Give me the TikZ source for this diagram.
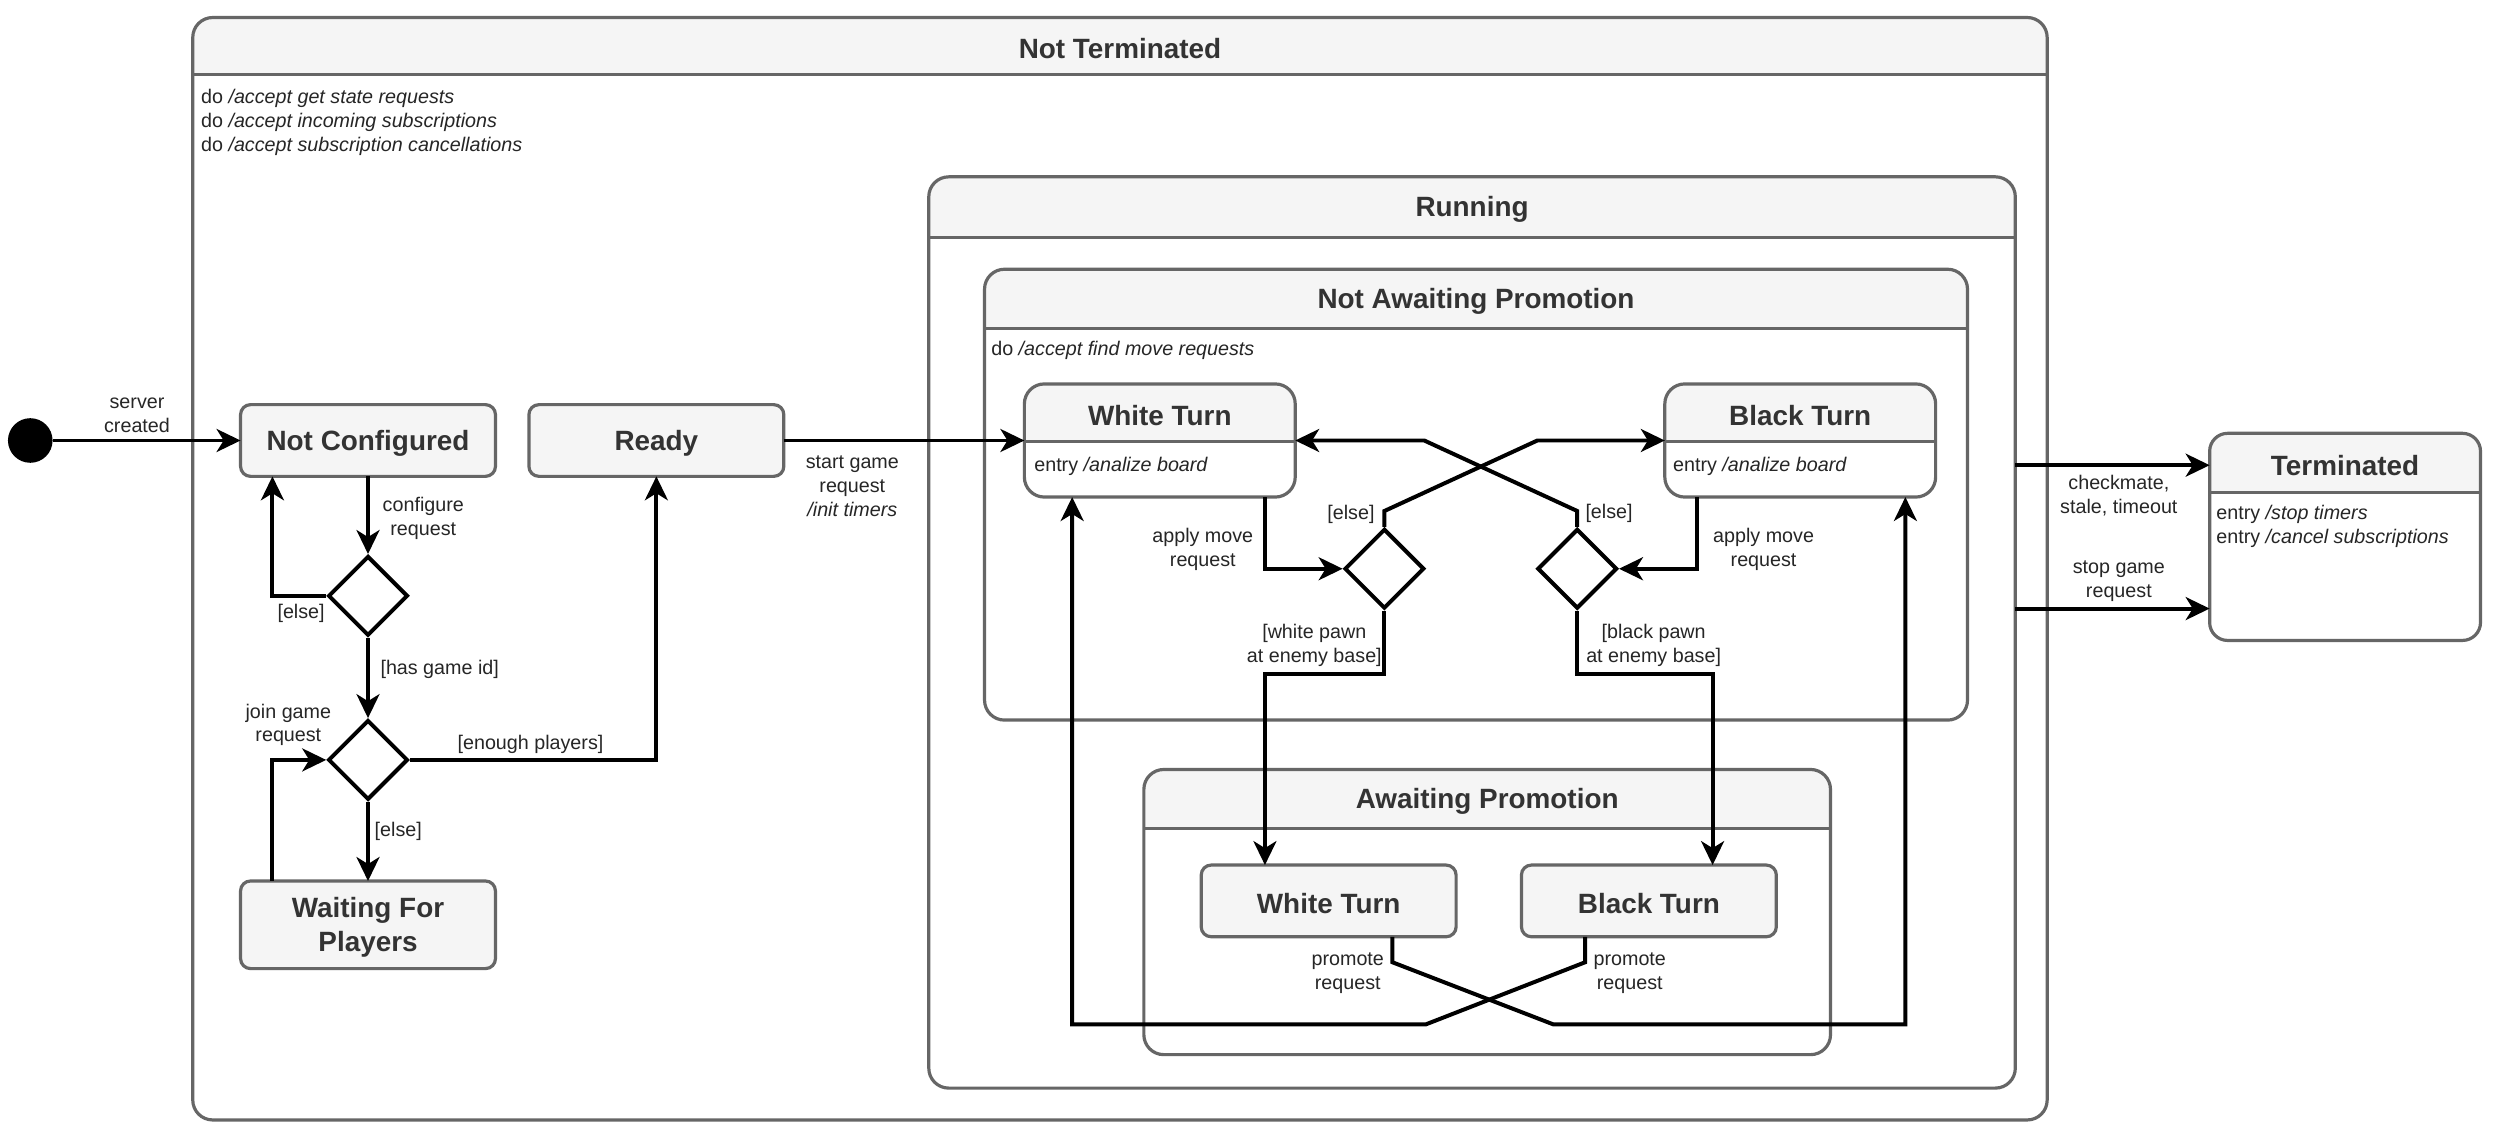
\documentclass[tikz,border=0pt]{standalone}
\usepackage{fontspec}
\setmainfont{Liberation Sans}
\usetikzlibrary{shapes.geometric,arrows.meta,calc}
\definecolor{bd}{HTML}{666666}
\definecolor{hd}{HTML}{F5F5F5}
\definecolor{tx}{HTML}{333333}
\tikzset{
  bdline/.style={draw=bd, line width=1.6pt},
  ttl/.style={font=\fontsize{14}{16.8}\selectfont\bfseries, text=tx, align=center, inner sep=0pt, yshift=-1.2pt},
  lbl/.style={font=\fontsize{9.9}{12}\selectfont, text=black!85, align=center, inner sep=0pt, yshift=-0.8pt},
  act/.style={font=\fontsize{9.9}{12}\selectfont, text=black!85, align=left, anchor=west, inner sep=0pt, yshift=-0.8pt},
  arr/.style={line width=2pt, -{Stealth[length=12pt,width=11.5pt,inset=3.5pt]}},
  dia/.style={diamond, draw=black, line width=2pt, fill=white, minimum width=40pt, minimum height=40pt, inner sep=0pt, aspect=1},
  initst/.style={circle, fill=black, minimum size=22.4pt, inner sep=0pt}
}
\newcommand\mkbox[5]{%
  \node[inner sep=0pt, outer sep=0pt, minimum width={(#4-#2)*0.8pt}, minimum height={(#5-#3)*0.8pt}] (#1) at ({(#2+#4)/2},{(#3+#5)/2}) {};}
\newcommand\simplest[5]{%
  \mkbox{#1}{#2}{#3}{#4}{#5}
  \draw[bdline, fill=hd, rounded corners=5pt] (#2,#3) rectangle (#4,#5);}
\newcommand\compound[7]{%
  \mkbox{#1}{#2}{#3}{#4}{#5}
  \fill[white, rounded corners=#7] (#2,#3) rectangle (#4,#5);
  \begin{scope}
    \clip (#2-5,#3-5) rectangle (#4+5,#6);
    \fill[hd, rounded corners=#7] (#2,#3) rectangle (#4,#5);
  \end{scope}
  \draw[bdline] (#2,#6) -- (#4,#6);
  \draw[bdline, rounded corners=#7] (#2,#3) rectangle (#4,#5);}
\begin{document}
\begin{tikzpicture}[x=0.8pt,y=-0.8pt]
\useasboundingbox (0,0) rectangle (1568,713);

% containers and states
\compound{nt}{121}{11}{1285}{703}{47}{10pt}
\node[ttl] (ntT) at (703,29) {Not Terminated};
\node[act] (ntA) at (126,76) {do \textit{/accept get state requests}\\do \textit{/accept incoming subscriptions}\\do \textit{/accept subscription cancellations}};

\simplest{nc}{151}{254}{311}{299}
\node[ttl] (ncT) at (231,276.5) {Not Configured};
\simplest{rd}{332}{254}{492}{299}
\node[ttl] (rdT) at (412,276.5) {Ready};
\simplest{wfp}{151}{553}{311}{608}
\node[ttl] (wfpT) at (231,580.5) {Waiting For\\Players};

\compound{run}{583}{111}{1265}{683}{149}{10pt}
\node[ttl] (runT) at (924,130) {Running};

\compound{nap}{618}{169}{1235}{452}{206}{10pt}
\node[ttl] (napT) at (926.5,187.5) {Not Awaiting Promotion};
\node[act] (napA) at (622,219) {do \textit{/accept find move requests}};

\compound{wt}{643}{241}{813}{312}{277}{10pt}
\node[ttl] (wtT) at (728,259.5) {White Turn};
\node[act] (wtA) at (649,292) {entry \textit{/analize board}};
\compound{bt}{1045}{241}{1215}{312}{277}{10pt}
\node[ttl] (btT) at (1130,259.5) {Black Turn};
\node[act] (btA) at (1050,292) {entry \textit{/analize board}};

\compound{ap}{718}{483}{1149}{662}{520}{10pt}
\node[ttl] (apT) at (933.5,501.5) {Awaiting Promotion};
\simplest{apw}{754}{543}{914}{588}
\node[ttl] (apwT) at (834,565.5) {White Turn};
\simplest{apb}{955}{543}{1115}{588}
\node[ttl] (apbT) at (1035,565.5) {Black Turn};

\compound{term}{1387}{272}{1557}{402}{309}{9pt}
\node[ttl] (termT) at (1472,290.5) {Terminated};
\node[act] (termA) at (1391,329.5) {entry \textit{/stop timers}\\entry \textit{/cancel subscriptions}};

% pseudo states
\node[initst] (init) at (19,276.5) {};
\node[dia] (d1) at (231,374) {};
\node[dia] (d2) at (231,477) {};
\node[dia] (dw) at (869,357) {};
\node[dia] (db) at (990,357) {};

% connectors
\draw[arr] (init) -- (nc.west);
\draw[arr] (nc.south) -- (d1.north);
\draw[arr] (d1.west) -| ($(nc.south west)+(20,0)$);
\draw[arr] (d1.south) -- (d2.north);
\draw[arr] (d2.east) -| (rd.south);
\draw[arr] (d2.south) -- (wfp.north);
\draw[arr] ($(wfp.north west)+(20,0)$) |- (d2.west);
\draw[arr] (rd.east) -- (rd.east -| wt.west);
\draw[arr] ($(wt.south west)+(151,0)$) |- (dw.west);
\draw[arr] ($(bt.south west)+(20,0)$) |- (db.east);
\draw[arr] (dw.north) -- ++(0,-10) -- ($(bt.west)+(-80,0)$) -- (bt.west);
\draw[arr] (db.north) -- ++(0,-10) -- ($(wt.east)+(81,0)$) -- (wt.east);
\draw[arr] (dw.south) -- ++(0,40) -| ($(apw.north west)+(40,0)$);
\draw[arr] (db.south) -- ++(0,40) -| ($(apb.north east)+(-40,0)$);
\draw[arr] ($(apw.south east)+(-40,0)$) -- ++(0,16) -- ++(101,39) -| ($(bt.south east)+(-19,0)$);
\draw[arr] ($(apb.south west)+(40,0)$) -- ++(0,16) -- ++(-100,39) -| ($(wt.south west)+(30,0)$);
\draw[arr] ($(term.north west -| run.east)+(0,20)$) -- ($(term.north west)+(0,20)$);
\draw[arr] ($(term.north west -| run.east)+(0,110)$) -- ($(term.north west)+(0,110)$);

% labels
\node[lbl] (l1) at (86,259.5) {server\\created};
\node[lbl, anchor=west] (l2) at (240,324.5) {configure\\request};
\node[lbl] (l3) at (189,384) {[else]};
\node[lbl] (l4) at (276,419) {[has game id]};
\node[lbl] (l5) at (333,466) {[enough players]};
\node[lbl] (l6) at (250,521) {[else]};
\node[lbl] (l7) at (181,454) {join game\\request};
\node[lbl] (l8) at (535,304) {start game\\request\\\textit{/init timers}};
\node[lbl] (l9) at (755,344) {apply move\\request};
\node[lbl] (l10) at (1107,344) {apply move\\request};
\node[lbl] (l11) at (848,322) {[else]};
\node[lbl] (l12) at (1010,321) {[else]};
\node[lbl] (l13) at (825,404) {[white pawn\\at enemy base]};
\node[lbl] (l14) at (1038,404) {[black pawn\\at enemy base]};
\node[lbl] (l15) at (846,610) {promote\\request};
\node[lbl] (l16) at (1023,610) {promote\\request};
\node[lbl] (l17) at (1330,310) {checkmate,\\stale, timeout};
\node[lbl] (l18) at (1330,364) {stop game\\request};
\end{tikzpicture}
\end{document}
